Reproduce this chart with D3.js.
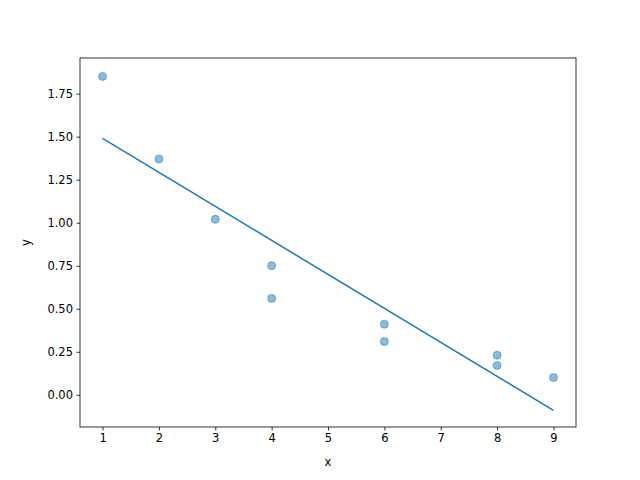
<!DOCTYPE html>
<html><head><meta charset="utf-8">
<script src="https://cdn.jsdelivr.net/npm/d3@7"></script>
<style>body{margin:0;background:#fff}text{font-family:"DejaVu Sans",sans-serif}</style>
</head><body><svg id="c" width="640" height="480"></svg>
<script>
const xs = [1,2,3,4,4,6,6,8,8,9];
const ys = [1.85,1.37,1.02,0.75,0.56,0.41,0.31,0.23,0.17,0.10];
const lineX = [1,9];
const lineY = [1.49,-0.09];
const xTicks = [1,2,3,4,5,6,7,8,9];
const yTicks = [0,0.25,0.5,0.75,1,1.25,1.5,1.75];

const svg = d3.select("#c");
const L=80,R=576,T=58,B=427;
const x = d3.scaleLinear().domain([0.6,9.4]).range([L,R]);
const y = d3.scaleLinear().domain([-0.187,1.957]).range([B,T]);

const ax = svg.append("g").attr("transform",`translate(0,${B})`)
  .call(d3.axisBottom(x).tickValues(xTicks).tickSize(3.5).tickPadding(3.5).tickFormat(d3.format("d")));
const ay = svg.append("g").attr("transform",`translate(${L},0)`)
  .call(d3.axisLeft(y).tickValues(yTicks).tickSize(3.5).tickPadding(3.5).tickFormat(d3.format(".2f")));
[ax,ay].forEach(a=>{a.selectAll("text").attr("font-size",11.5).attr("fill","#000").style("font-family","DejaVu Sans");a.select(".domain").remove();a.selectAll("line").attr("stroke","#000").attr("stroke-width",0.8);});

svg.append("rect").attr("x",L).attr("y",T).attr("width",R-L).attr("height",B-T).attr("fill","none").attr("stroke","#000").attr("stroke-width",0.8);

svg.append("path").datum(lineX.map((d,i)=>[d,lineY[i]]))
  .attr("d",d3.line().x(d=>x(d[0])).y(d=>y(d[1]))).attr("fill","none").attr("stroke","#1f77b4").attr("stroke-width",1.5);

svg.selectAll("circle.p").data(xs).enter().append("circle")
  .attr("cx",d=>x(d)).attr("cy",(d,i)=>y(ys[i])).attr("r",4)
  .attr("fill","#1f77b4").attr("fill-opacity",0.5).attr("stroke","#1f77b4").attr("stroke-opacity",0.5);

svg.append("text").attr("x",(L+R)/2).attr("y",466).attr("text-anchor","middle").attr("font-size",11.5).text("x");
svg.append("text").attr("transform",`translate(30,${(T+B)/2}) rotate(-90)`).attr("text-anchor","middle").attr("font-size",11.5).text("y");
</script></body></html>
